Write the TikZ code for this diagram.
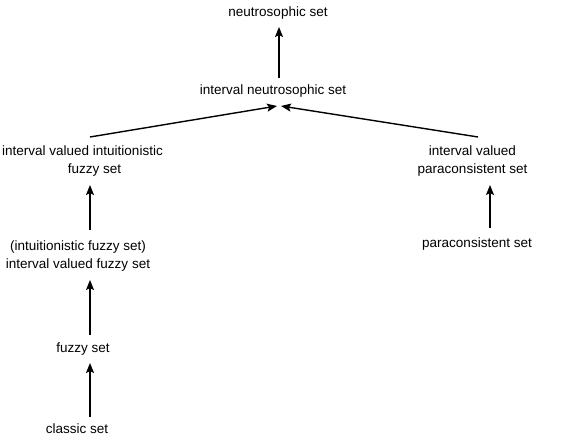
\documentclass[tikz,border=0pt]{standalone}
\usepackage{fontspec}
\setmainfont{Liberation Sans}
\usetikzlibrary{arrows.meta}
\begin{document}
\begin{tikzpicture}[x=1pt,y=1pt,
  lbl/.style={inner sep=0pt, font=\fontsize{13.5}{18}\selectfont, align=center},
  arr/.style={line width=1.4pt, -{Stealth[length=10pt,width=8pt,inset=2pt]}}]
\useasboundingbox (0,0) rectangle (561,441);
\node[lbl] (ns)   at (278,428)   {neutrosophic set};
\node[lbl] (ins)  at (273,350)   {interval neutrosophic set};
\node[lbl] (ivif) at (82.5,280)  {interval valued intuitionistic\\\hspace*{24pt}fuzzy set};
\node[lbl] (ivfs) at (78,185)    {(intuitionistic fuzzy set)\\interval valued fuzzy set};
\node[lbl] (fs)   at (83,92)     {fuzzy set};
\node[lbl] (cs)   at (77,12)     {classic set};
\node[lbl] (ivp)  at (472.5,280) {interval valued\\paraconsistent set};
\node[lbl] (ps)   at (477,197)   {paraconsistent set};
\draw[arr] ([shift={(6,13)}]ins.center)    -- ([shift={(1,-14)}]ns.center);
\draw[arr] ([shift={(7.5,24)}]ivif.center) -- ([shift={(4,-15)}]ins.center);
\draw[arr] ([shift={(5.5,24)}]ivp.center)  -- ([shift={(8,-15)}]ins.center);
\draw[arr] ([shift={(12,26)}]ivfs.center)  -- ([shift={(7.5,-24)}]ivif.center);
\draw[arr] ([shift={(7,14)}]fs.center)     -- ([shift={(12,-24)}]ivfs.center);
\draw[arr] ([shift={(13,12)}]cs.center)    -- ([shift={(7,-14)}]fs.center);
\draw[arr] ([shift={(13,16)}]ps.center)    -- ([shift={(17.5,-24)}]ivp.center);
\end{tikzpicture}
\end{document}
